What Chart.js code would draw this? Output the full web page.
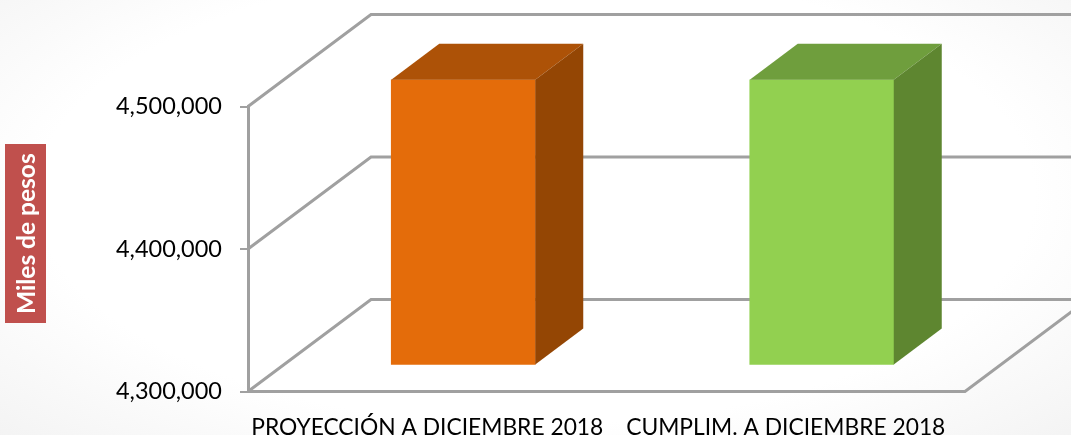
<!DOCTYPE html>
<html>
<head>
<meta charset="utf-8">
<script src="https://cdn.jsdelivr.net/npm/chart.js@4/dist/chart.umd.min.js"></script>
<style>
html,body{margin:0;padding:0;width:1071px;height:435px;overflow:hidden;background:radial-gradient(ellipse 75% 85% at 50% 45%,#ffffff 62%,#f1f1f1 100%);}
#wrap{position:relative;width:1071px;height:435px;}
#c{position:absolute;left:0;top:0;}
#unit{position:absolute;left:5px;top:144px;width:41px;height:179px;background:#c0504d;color:#fff;font:bold 24.5px Lato,sans-serif;writing-mode:vertical-rl;transform:rotate(180deg);text-align:center;line-height:41px;white-space:nowrap;}
</style>
</head>
<body>
<div id="wrap">
<canvas id="c" width="1071" height="435"></canvas>
<div id="unit">Miles de pesos</div>
</div>
<script>
const categories = ["PROYECCIÓN A DICIEMBRE 2018", "CUMPLIM. A DICIEMBRE 2018"];
const values = [4500500, 4500500];
const frontColors = ["#e46c0a", "#92d050"];
const topColors = ["#ad5207", "#6f9e3d"];
const sideColors = ["#944604", "#5e8630"];
const axisMin = 4300000;
const axisMax = 4500000;
const axisStep = 100000;

const gridColor = "#a0a0a0";
const wallDepth = {dx: 123, dy: -92};
const barShift = {dx: 36, dy: -26};
const barDepth = {dx: 48, dy: -36};

const frame3d = {
  id: "frame3d",
  beforeDatasetsDraw(chart) {
    const {ctx, chartArea: a, scales: {y}} = chart;
    ctx.save();
    ctx.strokeStyle = gridColor;
    ctx.lineWidth = 3;
    y.ticks.forEach(t => {
      const p = y.getPixelForValue(t.value);
      ctx.beginPath();
      ctx.moveTo(a.left, p);
      ctx.lineTo(a.left + wallDepth.dx, p + wallDepth.dy);
      ctx.lineTo(chart.width + 5, p + wallDepth.dy);
      ctx.stroke();
    });
    ctx.beginPath();
    ctx.moveTo(a.left, a.bottom);
    ctx.lineTo(a.right, a.bottom);
    ctx.lineTo(a.right + wallDepth.dx, a.bottom + wallDepth.dy);
    ctx.stroke();
    ctx.restore();
  },
  beforeDatasetDraw(chart) {
    chart.ctx.save();
    chart.ctx.translate(barShift.dx, barShift.dy);
  },
  afterDatasetDraw(chart, args) {
    const ctx = chart.ctx;
    args.meta.data.forEach((bar, i) => {
      const l = bar.x - bar.width / 2, r = bar.x + bar.width / 2;
      const t = bar.y, b = bar.base;
      const {dx, dy} = barDepth;
      ctx.fillStyle = topColors[i];
      ctx.beginPath();
      ctx.moveTo(l, t); ctx.lineTo(l + dx, t + dy); ctx.lineTo(r + dx, t + dy); ctx.lineTo(r, t);
      ctx.closePath(); ctx.fill();
      ctx.fillStyle = sideColors[i];
      ctx.beginPath();
      ctx.moveTo(r, t); ctx.lineTo(r + dx, t + dy); ctx.lineTo(r + dx, b + dy); ctx.lineTo(r, b);
      ctx.closePath(); ctx.fill();
    });
    ctx.restore();
  }
};

new Chart(document.getElementById("c"), {
  type: "bar",
  data: {
    labels: categories,
    datasets: [{
      data: values,
      base: axisMin,
      backgroundColor: frontColors,
      barThickness: 144,
      clip: false
    }]
  },
  options: {
    responsive: false,
    animation: false,
    layout: {padding: {top: 106.5, right: 106, left: 0, bottom: 0}},
    plugins: {legend: {display: false}, tooltip: {enabled: false}},
    scales: {
      x: {
        afterFit(s) { s.height = 43.5; },
        grid: {display: false},
        border: {display: false},
        ticks: {color: "#000", font: {family: "Lato", size: 22.8}, maxRotation: 0, minRotation: 0, autoSkip: false, padding: 14}
      },
      y: {
        min: axisMin,
        max: axisMax,
        afterFit(s) { s.width = 248; },
        grid: {drawOnChartArea: false, tickLength: 8, tickColor: gridColor, lineWidth: 2},
        border: {color: gridColor, width: 3},
        ticks: {
          stepSize: axisStep,
          color: "#000",
          font: {family: "Lato", size: 23.5},
          padding: 18,
          callback: v => v.toLocaleString("en-US")
        }
      }
    }
  },
  plugins: [frame3d]
});
</script>
</body>
</html>
